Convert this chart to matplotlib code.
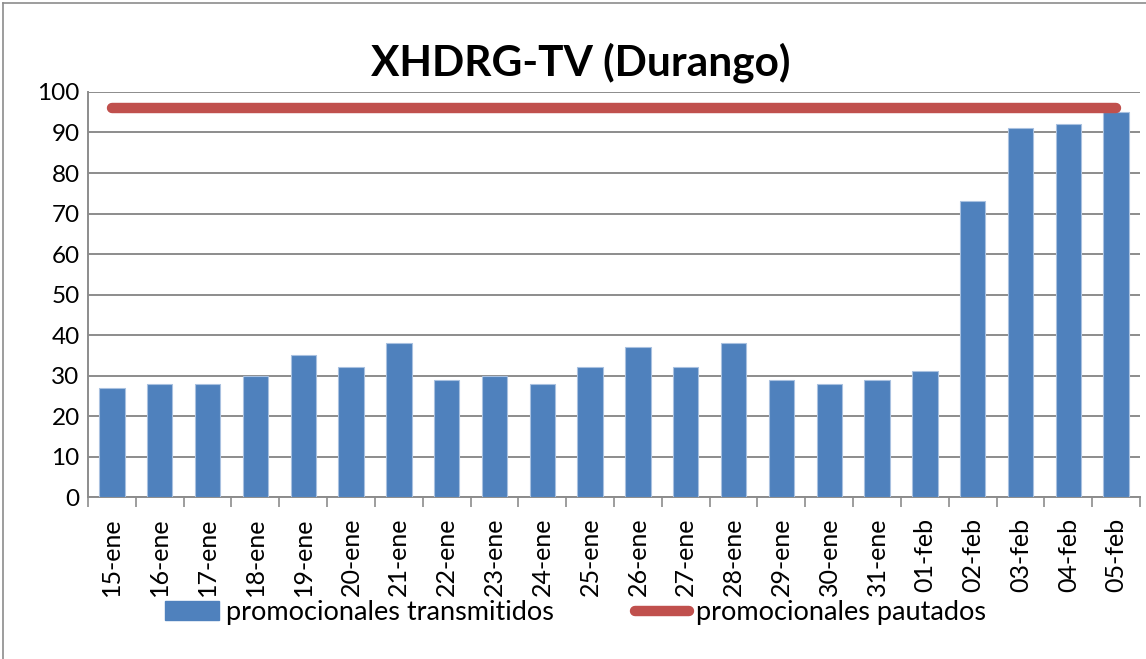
import matplotlib
matplotlib.use("Agg")
import matplotlib.pyplot as plt
from matplotlib.patches import Patch
from matplotlib.lines import Line2D

# data
dias = ["15-ene", "16-ene", "17-ene", "18-ene", "19-ene", "20-ene", "21-ene",
        "22-ene", "23-ene", "24-ene", "25-ene", "26-ene", "27-ene", "28-ene",
        "29-ene", "30-ene", "31-ene", "01-feb", "02-feb", "03-feb", "04-feb",
        "05-feb"]
transmitidos = [27, 28, 28, 30, 35, 32, 38, 29, 30, 28, 32, 37, 32, 38,
                29, 28, 29, 31, 73, 91, 92, 95]
pautados = [96] * len(dias)

BLUE = "#4F81BD"
RED = "#C0504D"
GRID = "#8C8C8C"

plt.rcParams["font.family"] = ["Lato", "DejaVu Sans"]

fig = plt.figure(figsize=(11.46, 6.59), dpi=100)
ax = fig.add_axes([0.0768, 0.2458, 0.9180, 0.6146])

x = list(range(len(dias)))
ax.bar(x, transmitidos, width=0.53, color=BLUE, edgecolor="#A9C1E0",
       linewidth=0.8, zorder=3, label="promocionales transmitidos")
ax.plot(x, pautados, color=RED, linewidth=7.5, solid_capstyle="round",
        zorder=4, label="promocionales pautados")

ax.set_xlim(-0.5, len(dias) - 0.5)
ax.set_ylim(0, 100)
ax.set_yticks(range(0, 101, 10))
ax.tick_params(axis="y", labelsize=17.5, length=0, pad=6)
ax.yaxis.grid(True, color=GRID, linewidth=1.4, zorder=0)

ax.set_xticks(x)
ax.set_xticklabels(dias, rotation=90, fontsize=18)
ax.tick_params(axis="x", which="major", length=0, pad=15)
ax.set_xticks([i - 0.5 for i in range(len(dias) + 1)], minor=True)
ax.tick_params(axis="x", which="minor", length=7, width=1.2, color=GRID)

for side in ["top", "right"]:
    ax.spines[side].set_visible(False)
for side in ["left", "bottom"]:
    ax.spines[side].set_color(GRID)
    ax.spines[side].set_linewidth(1.4)

fig.text(0.507, 0.905, "XHDRG-TV (Durango)", ha="center", va="center",
         fontsize=30.5, fontweight="bold")

handles = [Patch(facecolor=BLUE, edgecolor=BLUE),
           Line2D([0], [0], color=RED, linewidth=7.5, solid_capstyle="round")]
fig.legend(handles, ["promocionales transmitidos", "promocionales pautados"],
           loc="center", bbox_to_anchor=(0.502, 0.07), ncol=2, frameon=False,
           fontsize=19.5, handlelength=2.0, handleheight=0.7, handletextpad=0.25,
           columnspacing=3.0)

# chart border (left and top edges visible in the crop)
fig.add_artist(Line2D([0.003, 0.003], [0.0, 0.996], transform=fig.transFigure,
                      color=GRID, linewidth=1.2))
fig.add_artist(Line2D([0.003, 1.0], [0.996, 0.996], transform=fig.transFigure,
                      color=GRID, linewidth=1.2))

fig.savefig("out.png", dpi=100)
